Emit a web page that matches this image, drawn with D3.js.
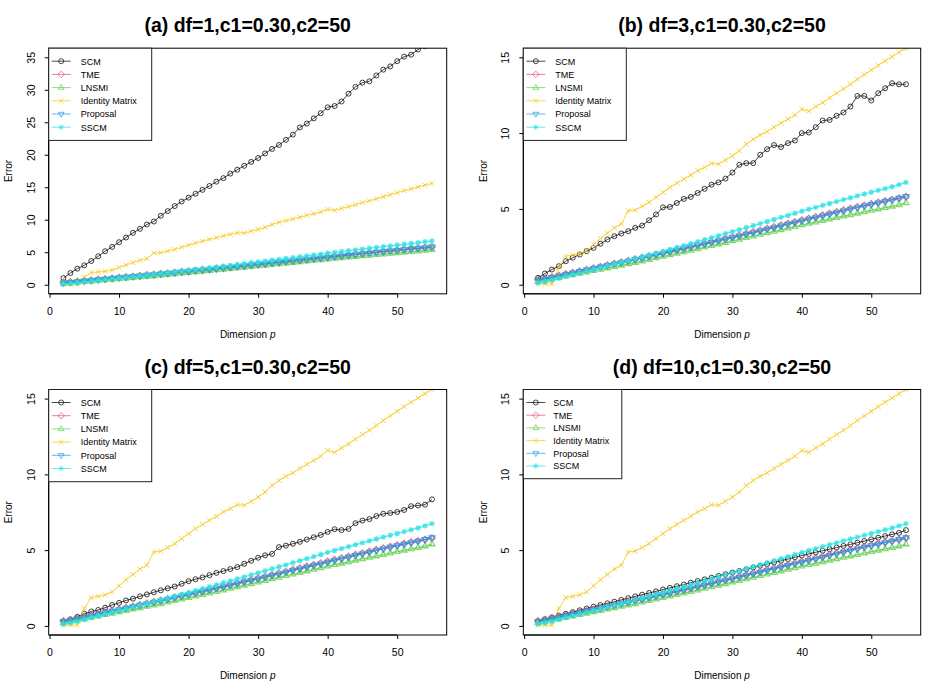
<!DOCTYPE html>
<html>
<head>
<meta charset="utf-8">
<script src="https://cdn.jsdelivr.net/npm/d3@7"></script>
<style>
  body { margin: 0; background: #fff; }
  svg { font-family: "Liberation Sans", Arial, Helvetica, sans-serif; }
</style>
</head>
<body>
<svg id="chart" width="947" height="697"></svg>
<script>
// dimensions p = 2..55
const dims = [2,3,4,5,6,7,8,9,10,11,12,13,14,15,16,17,18,19,20,21,22,23,24,25,26,27,28,29,30,
  31,32,33,34,35,36,37,38,39,40,41,42,43,44,45,46,47,48,49,50,51,52,53,54,55];

const seriesNames = ['SCM', 'TME', 'LNSMI', 'Identity Matrix', 'Proposal', 'SSCM'];
const seriesColors = ['#000000', '#DF536B', '#61D04F', '#F5C710', '#2297E6', '#28E2E5'];
const seriesShapes = ['circle', 'diamond', 'triangle', 'cross', 'triangleDown', 'asterisk'];
const seriesWidths = [1, 1.3, 1.3, 1, 1.3, 1.3];

// SCM differs per panel
const scmDf1 = [1.02,1.79,2.47,2.98,3.65,4.37,5.15,5.82,6.54,
  7.26,7.98,8.6,9.27,9.73,10.61,11.33,12.1,12.8,13.4,
  14.0,14.6,15.2,15.86,16.4,17.1,17.7,18.3,18.9,19.5,
  20.2,20.9,21.5,22.3,23.1,24.2,24.8,25.6,26.4,27.3,
  27.5,28.2,29.4,30.45,31.1,31.3,32.2,33.1,33.6,34.4,
  35.1,35.4,36.2,36.7,37.3];
const scmDf3 = [0.45,0.74,1.0,1.22,1.55,1.78,1.99,2.21,2.43,
  2.7,2.98,3.2,3.38,3.53,3.75,3.9,4.25,4.63,5.1,
  5.13,5.39,5.66,5.79,6.05,6.32,6.6,6.75,7.0,7.4,
  7.91,8.02,8.02,8.57,8.94,9.21,9.08,9.34,9.51,10.0,
  10.04,10.39,10.83,10.87,11.14,11.36,11.75,12.45,12.45,12.15,
  12.63,12.96,13.29,13.22,13.22];
const scmDf5 = [0.28,0.42,0.6,0.8,0.95,1.05,1.2,1.38,1.52,
  1.68,1.8,1.95,2.08,2.22,2.35,2.48,2.6,2.78,2.95,
  3.08,3.2,3.35,3.5,3.62,3.75,3.88,4.1,4.3,4.5,
  4.66,4.75,5.2,5.3,5.42,5.55,5.7,5.85,6.0,6.2,
  6.38,6.32,6.4,6.78,6.95,7.05,7.25,7.4,7.45,7.52,
  7.65,7.9,7.95,8.0,8.35];
const scmDf10 = [0.3,0.44,0.56,0.68,0.8,0.91,1.03,1.15,1.27,
  1.38,1.49,1.6,1.72,1.83,1.95,2.06,2.17,2.28,2.4,
  2.51,2.62,2.73,2.85,2.96,3.07,3.18,3.3,3.41,3.52,
  3.63,3.74,3.86,3.97,4.08,4.19,4.3,4.41,4.53,4.64,
  4.75,4.86,4.96,5.06,5.17,5.28,5.38,5.49,5.6,5.71,
  5.82,5.93,6.04,6.14,6.32];

// the other estimators look the same in every panel
const tme = [0.32,0.41,0.5,0.6,0.7,0.79,0.89,0.99,1.09,
  1.18,1.28,1.38,1.48,1.58,1.68,1.78,1.88,1.98,2.08,
  2.18,2.29,2.39,2.5,2.6,2.71,2.82,2.93,3.03,3.14,
  3.25,3.36,3.47,3.58,3.7,3.81,3.92,4.03,4.14,4.25,
  4.36,4.47,4.58,4.69,4.8,4.91,5.02,5.12,5.22,5.32,
  5.42,5.52,5.61,5.7,5.8];
const lnsmi = [0.2,0.29,0.38,0.47,0.56,0.65,0.74,0.83,0.92,
  1.01,1.1,1.19,1.28,1.37,1.46,1.56,1.66,1.76,1.86,
  1.96,2.06,2.16,2.26,2.36,2.47,2.57,2.68,2.78,2.89,
  2.99,3.1,3.2,3.31,3.41,3.52,3.62,3.73,3.83,3.94,
  4.04,4.13,4.23,4.33,4.42,4.52,4.61,4.71,4.8,4.9,
  4.99,5.08,5.17,5.27,5.4];
const identity = [0.05,0.05,0.05,1.15,1.87,1.95,2.05,2.25,2.65,
  3.05,3.4,3.75,4.0,4.88,4.93,5.17,5.43,5.76,6.09,
  6.42,6.7,6.97,7.23,7.52,7.74,8.0,7.96,8.22,8.5,
  8.83,9.27,9.6,9.87,10.1,10.39,10.66,10.92,11.2,11.58,
  11.45,11.75,12.01,12.32,12.63,12.91,13.22,13.55,13.86,14.16,
  14.47,14.76,15.04,15.33,15.59];
const proposal = [0.28,0.38,0.48,0.58,0.68,0.78,0.88,0.98,1.08,
  1.17,1.27,1.37,1.46,1.56,1.66,1.76,1.86,1.96,2.06,
  2.16,2.26,2.37,2.47,2.58,2.68,2.79,2.9,3.0,3.11,
  3.22,3.33,3.44,3.55,3.66,3.77,3.88,3.99,4.1,4.21,
  4.32,4.43,4.54,4.65,4.76,4.87,4.98,5.09,5.2,5.3,
  5.4,5.5,5.6,5.71,5.82];
const sscm = [0.12,0.2,0.3,0.42,0.55,0.66,0.78,0.9,1.02,
  1.13,1.25,1.37,1.48,1.6,1.72,1.84,1.96,2.08,2.2,
  2.33,2.46,2.58,2.71,2.84,2.97,3.1,3.23,3.37,3.5,
  3.63,3.77,3.9,4.03,4.17,4.3,4.44,4.57,4.71,4.85,
  4.98,5.1,5.23,5.36,5.48,5.61,5.73,5.86,5.98,6.1,
  6.22,6.34,6.46,6.6,6.75];

const panelTitles = ['(a) df=1,c1=0.30,c2=50', '(b) df=3,c1=0.30,c2=50',
  '(c) df=5,c1=0.30,c2=50', '(d) df=10,c1=0.30,c2=50'];
const panelScm = [scmDf1, scmDf3, scmDf5, scmDf10];
const yLimits = [[0, 35], [0, 15], [0, 15], [0, 15]];
const yTicks = [[0, 5, 10, 15, 20, 25, 30, 35], [0, 5, 10, 15], [0, 5, 10, 15], [0, 5, 10, 15]];
const xTicks = [0, 10, 20, 30, 40, 50];

// plot regions (pixels)
const boxes = [
  { x0: 48.7, x1: 446.7, y0: 48.2, y1: 293.8, ty: 32 },
  { x0: 523.3, x1: 920.7, y0: 48.2, y1: 293.8, ty: 32 },
  { x0: 48.7, x1: 446.7, y0: 389.5, y1: 635, ty: 374 },
  { x0: 523.3, x1: 920.7, y0: 389.5, y1: 635, ty: 374 },
];

function markerPath(shape) {
  switch (shape) {
    case 'circle': return 'M2.5,0A2.5,2.5 0 1,1 -2.5,0A2.5,2.5 0 1,1 2.5,0Z';
    case 'diamond': return 'M0,-3.3L3.3,0L0,3.3L-3.3,0Z';
    case 'triangle': return 'M0,-3.3L2.9,1.7L-2.9,1.7Z';
    case 'triangleDown': return 'M0,3.3L2.9,-1.7L-2.9,-1.7Z';
    case 'cross': return 'M-2.4,-2.4L2.4,2.4M-2.4,2.4L2.4,-2.4';
    case 'asterisk': return 'M-2.7,0H2.7M0,-2.7V2.7M-2,-2L2,2M-2,2L2,-2';
  }
}

const svg = d3.select('#chart');
svg.append('rect').attr('width', 947).attr('height', 697).attr('fill', '#fff');

boxes.forEach((b, i) => {
  const [lo, hi] = yLimits[i];
  const pad = (hi - lo) * 0.04;
  const x = d3.scaleLinear().domain([2 - 53 * 0.04, 55 + 53 * 0.04]).range([b.x0, b.x1]);
  const y = d3.scaleLinear().domain([lo - pad, hi + pad]).range([b.y1, b.y0]);

  const g = svg.append('g');
  const clipId = 'clip' + i;
  g.append('clipPath').attr('id', clipId)
    .append('rect').attr('x', b.x0).attr('y', b.y0)
    .attr('width', b.x1 - b.x0).attr('height', b.y1 - b.y0);

  const panelSeries = [panelScm[i], tme, lnsmi, identity, proposal, sscm];
  const plot = g.append('g').attr('clip-path', `url(#${clipId})`);
  const line = d3.line().x((d, k) => x(dims[k])).y((d) => y(d));

  panelSeries.forEach((vals, s) => {
    const sg = plot.append('g')
      .attr('stroke', seriesColors[s])
      .attr('stroke-opacity', s === 0 ? 0.75 : 0.8)
      .attr('fill', 'none');
    sg.append('path').attr('d', line(vals)).attr('stroke-width', seriesWidths[s] === 1 ? 1 : 1.2);
    sg.selectAll('path.pt')
      .data(vals)
      .join('path')
      .attr('class', 'pt')
      .attr('d', markerPath(seriesShapes[s]))
      .attr('stroke-width', seriesWidths[s])
      .attr('transform', (d, k) => `translate(${x(dims[k])},${y(d)})`);
  });

  // frame
  g.append('rect').attr('x', b.x0).attr('y', b.y0)
    .attr('width', b.x1 - b.x0).attr('height', b.y1 - b.y0)
    .attr('fill', 'none').attr('stroke', '#000').attr('stroke-width', 1);

  // x axis
  const xAxis = g.append('g').attr('transform', `translate(0,${b.y1})`)
    .call(d3.axisBottom(x).tickValues(xTicks).tickSize(4).tickSizeOuter(0));
  xAxis.select('.domain').attr('d', `M${x(0)},0H${x(50)}`);
  xAxis.selectAll('text').attr('y', 21).attr('dy', null)
    .attr('font-size', '10.5px').attr('font-family', null).attr('fill', '#000');

  // y axis
  const yAxis = g.append('g').attr('transform', `translate(${b.x0},0)`)
    .call(d3.axisLeft(y).tickValues(yTicks[i]).tickSize(4).tickSizeOuter(0));
  yAxis.select('.domain').attr('d', `M0,${y(lo)}V${y(hi)}`);
  yAxis.selectAll('text').attr('x', 0).attr('dy', null)
    .attr('transform', 'translate(-14,0) rotate(-90)')
    .attr('text-anchor', 'middle')
    .attr('font-size', '10.5px').attr('font-family', null).attr('fill', '#000');

  // labels
  const cx = (b.x0 + b.x1) / 2;
  const cy = (b.y0 + b.y1) / 2;
  g.append('text').attr('x', cx).attr('y', b.ty)
    .attr('text-anchor', 'middle').attr('font-size', '19.5px').attr('font-weight', 'bold')
    .text(panelTitles[i]);
  const xl = g.append('text').attr('x', cx).attr('y', b.y1 + 44)
    .attr('text-anchor', 'middle').attr('font-size', '10px');
  xl.append('tspan').text('Dimension ');
  xl.append('tspan').attr('font-style', 'italic').text('p');
  g.append('text')
    .attr('transform', `translate(${b.x0 - 36.5},${cy}) rotate(-90)`)
    .attr('text-anchor', 'middle').attr('font-size', '10px')
    .text('Error');

  // legend
  const lg = g.append('g').attr('transform', `translate(${b.x0},${b.y0})`);
  const lw = i === 3 ? 98.5 : 103;
  const step = i === 3 ? 12.7 : 13.2;
  lg.append('rect').attr('width', lw).attr('height', step * 6 + 13)
    .attr('fill', '#fff').attr('stroke', '#222').attr('stroke-width', 1);
  seriesNames.forEach((name, s) => {
    const ly = 13 + s * step;
    const eg = lg.append('g').attr('transform', `translate(0,${ly})`);
    eg.append('line').attr('x1', 3).attr('x2', 22)
      .attr('stroke', seriesColors[s]).attr('stroke-opacity', 0.7);
    eg.append('path').attr('d', markerPath(seriesShapes[s]))
      .attr('transform', 'translate(12.5,0)')
      .attr('fill', 'none').attr('stroke', seriesColors[s]).attr('stroke-opacity', 0.7);
    eg.append('text').attr('x', i === 3 ? 30 : 32).attr('y', 3.3)
      .attr('font-size', '9px').text(name);
  });
});
</script>
</body>
</html>
